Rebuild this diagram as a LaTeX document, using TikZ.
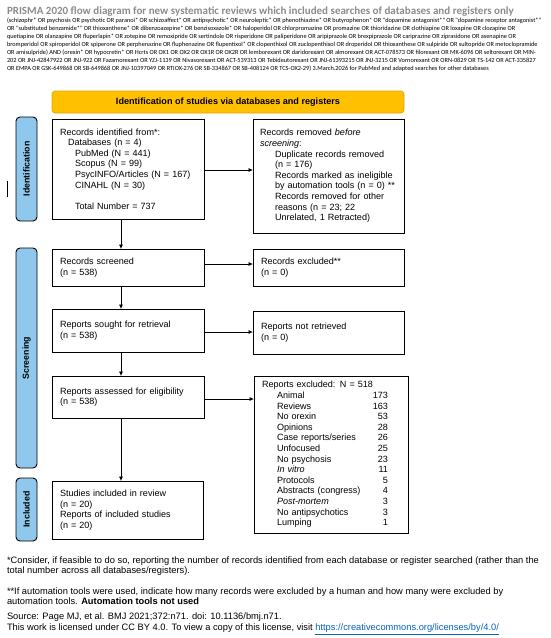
\documentclass[tikz,border=0pt]{standalone}
\usepackage{fontspec}
\setmainfont{Liberation Sans}
\newfontfamily\calibri{Carlito}
\usetikzlibrary{arrows.meta,calc}
\definecolor{prismablue}{RGB}{143,200,236}
\definecolor{prismayellow}{RGB}{255,192,0}
\definecolor{yellowedge}{RGB}{225,165,0}
\definecolor{titlegray}{RGB}{140,140,140}
\definecolor{linkblue}{RGB}{5,99,193}
\newcommand{\exrow}[2]{\hspace*{15pt}\makebox[111pt][l]{#1\hfill #2}}
\begin{document}
\begin{tikzpicture}[x=1pt,y=-1pt,
  every node/.style={inner sep=0pt, outer sep=0pt},
  flowbox/.style={draw=black, line width=0.9pt, fill=white, inner xsep=8pt, inner ysep=0pt,
     align=left, anchor=north west, font=\fontsize{9.05}{10.6}\selectfont},
  stagebox/.style={draw=black, line width=0.9pt, fill=prismablue, rounded corners=4pt,
     rotate=90, minimum height=21pt, font=\bfseries\fontsize{8.8}{10}\selectfont},
  headbox/.style={draw=yellowedge, line width=0.6pt, fill=prismayellow, rounded corners=3pt,
     font=\bfseries\fontsize{9.1}{11}\selectfont},
  arr/.style={line width=0.7pt, -{Latex[length=4.5pt,width=4pt]}},
  note/.style={anchor=west, align=left, font=\fontsize{9.3}{10.5}\selectfont}
]
\useasboundingbox (0,0) rectangle (550,638);
\fill[white] (0,0) rectangle (550,638);

% title and search string
\node[anchor=west, font=\calibri\bfseries\fontsize{11}{12}\selectfont, text=titlegray] (title) at (7,12)
  {PRISMA 2020 flow diagram for new systematic reviews which included searches of databases and registers only};
\node[anchor=north west, align=left, font=\calibri\fontsize{6.3}{8}\selectfont] (search) at (7,17.5)
  {(schizophr* OR psychosis OR psychotic OR paranoi* OR schizoaffect* OR antipsychotic* OR neuroleptic* OR phenothiazine* OR butyrophenon* OR "dopamine antagonist*" OR "dopamine receptor antagonist*"\\
   OR "substituted benzamide*" OR thioxanthene* OR dibenzoazepine* OR benzisoxazole* OR haloperidol OR chlorpromazine OR promazine OR thioridazine OR clothiapine OR loxapine OR clozapine OR\\
   quetiapine OR olanzapine OR fluperlapin* OR zotepine OR remoxipride OR sertindole OR risperidone OR paliperidone OR aripiprazole OR brexpiprazole OR cariprazine OR ziprasidone OR asenapine OR\\
   bromperidol OR spiroperidol OR spiperone OR perphenazine OR fluphenazine OR flupentixol* OR clopenthixol OR zuclopenthixol OR droperidol OR thioxanthese OR sulpiride OR sultopride OR metoclopramide\\
   OR amisulpride) AND (orexin* OR hypocretin* OR Hcrts OR OX1 OR OX2 OR OX1R OR OX2R OR lemborexant OR daridorexant OR almorexant OR ACT-078573 OR filorexant OR MK-6096 OR seltorexant OR MIN-\\
   202 OR JNJ-42847922 OR JNJ-922 OR Fazamorexant OR YZJ-1139 OR Nivasorexant OR ACT-539313 OR Tebideutorexant OR JNJ-61393215 OR JNJ-3215 OR Vornorexant OR ORN-0829 OR TS-142 OR ACT-335827\\
   OR EMPA OR GSK-649868 OR SB-649868 OR JNJ-10397049 OR RTIOX-276 OR SB-334867 OR SB-408124 OR TCS-OX2-29) 3.March.2026 for PubMed and adapted searches for other databases};

% small cursor mark
\draw[line width=0.8pt] (7,181) -- (7,197);

% header
\node[headbox, minimum width=352pt, minimum height=22pt] (head) at (228,102)
  {Identification of studies via databases and registers};

% stage labels
\node[stagebox, minimum width=104pt] (lident) at (26.5,169) {Identification};
\node[stagebox, minimum width=220pt] (lscreen) at (26.5,358) {Screening};
\node[stagebox, minimum width=63pt] (lincl) at (26.5,509.5) {Included};

% left column
\node[flowbox, text width=136pt, minimum height=100pt] (ident) at (52,119)
  {Records identified from*:\\
   \hspace*{8pt}Databases (n = 4)\\
   \hspace*{15pt}PubMed (N = 441)\\
   \hspace*{15pt}Scopus (N = 99)\\
   \hspace*{15pt}PsycINFO/Articles (N = 167)\\
   \hspace*{15pt}CINAHL (N = 30)\\[10.6pt]
   \hspace*{15pt}Total Number = 737};
\node[flowbox, text width=136pt, minimum height=37pt] (screened) at (52,249)
  {Records screened\\(n = 538)};
\node[flowbox, text width=136pt, minimum height=43pt] (sought) at (52,309)
  {Reports sought for retrieval\\(n = 538)};
\node[flowbox, text width=136pt, minimum height=42pt] (assessed) at (52,376)
  {Reports assessed for eligibility\\(n = 538)};
\node[flowbox, text width=135pt, minimum height=58pt] (included) at (52,481)
  {Studies included in review\\(n = 20)\\Reports of included studies\\(n = 20)};

% right column
\node[flowbox, inner xsep=7pt, text width=137pt, minimum height=114pt] (removed) at (253,119)
  {Records removed \textit{before}\\
   \textit{screening}:\\
   \hspace*{15pt}Duplicate records removed\\
   \hspace*{15pt}(n = 176)\\
   \hspace*{15pt}Records marked as ineligible\\
   \hspace*{15pt}by automation tools (n = 0) **\\
   \hspace*{15pt}Records removed for other\\
   \hspace*{15pt}reasons (n = 23; 22\\
   \hspace*{15pt}Unrelated, 1 Retracted)};
\node[flowbox, text width=135pt, minimum height=37pt] (recexcl) at (253,249)
  {Records excluded**\\(n = 0)};
\node[flowbox, text width=135pt, minimum height=43pt] (notret) at (253,311)
  {Reports not retrieved\\(n = 0)};
\node[flowbox, text width=138pt, minimum height=157pt] (repexcl) at (254,376)
  {Reports excluded: N = 518\\
   \exrow{Animal}{173}\\
   \exrow{Reviews}{163}\\
   \exrow{No orexin}{53}\\
   \exrow{Opinions}{28}\\
   \exrow{Case reports/series}{26}\\
   \exrow{Unfocused}{25}\\
   \exrow{No psychosis}{23}\\
   \exrow{\textit{In vitro}}{11}\\
   \exrow{Protocols}{5}\\
   \exrow{Abstracts (congress)}{4}\\
   \exrow{\textit{Post-mortem}}{3}\\
   \exrow{No antipsychotics}{3}\\
   \exrow{Lumping}{1}};

% connectors
\coordinate (ax) at (121,0);
\coordinate (h1) at (0,170);
\coordinate (h2) at (0,264);
\coordinate (h3) at (0,332);
\coordinate (h4) at (0,399);
\draw[arr] (ident.east |- h1) -- (removed.west |- h1);
\draw[arr] (screened.east |- h2) -- (recexcl.west |- h2);
\draw[arr] (sought.east |- h3) -- (notret.west |- h3);
\draw[arr] (assessed.east |- h4) -- (repexcl.west |- h4);
\draw[arr] (ax |- ident.south) -- (ax |- screened.north);
\draw[arr] (ax |- screened.south) -- (ax |- sought.north);
\draw[arr] (ax |- sought.south) -- (ax |- assessed.north);
\draw[arr] (ax |- assessed.south) -- (ax |- included.north);

% footnotes
\node[note] (fn1) at (7,566.25)
  {*Consider, if feasible to do so, reporting the number of records identified from each database or register searched (rather than the\\
   total number across all databases/registers).};
\node[note] (fn2) at (7,596)
  {**If automation tools were used, indicate how many records were excluded by a human and how many were excluded by\\
   automation tools. \textbf{Automation tools not used}};
\node[note] (fn3) at (7,623.75)
  {Source: Page MJ, et al. BMJ 2021;372:n71. doi: 10.1136/bmj.n71.\\
   This work is licensed under CC BY 4.0. To view a copy of this license, visit \textcolor{linkblue}{\underline{https://creativecommons.org/licenses/by/4.0/}}};
\end{tikzpicture}
\end{document}
